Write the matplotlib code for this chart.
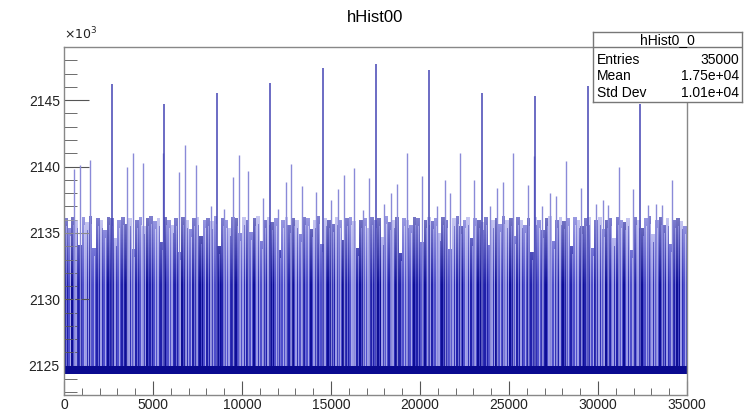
import numpy as np
import matplotlib
matplotlib.use("Agg")
import matplotlib.pyplot as plt
from matplotlib.ticker import MultipleLocator

plt.rcParams['font.family'] = ['Liberation Sans', 'DejaVu Sans']

# histogram (y in units of 10^3)
n_bins = 35000
stripe_width = 200
baseline = 2124.4
base_top = 2125.0

# tall spikes (bin, height)
tall_x = [2680, 5635, 8614, 11573, 14533, 17528, 20524, 23465, 26462, 29420, 32360]
tall_y = [2146.2, 2144.7, 2145.5, 2146.3, 2147.4, 2147.7, 2147.3, 2145.5, 2145.3, 2146.1, 2144.7]

# medium spikes (bin, height)
mid_x = [561, 899, 1461, 3522, 3858, 4420, 5580, 6478, 6798, 7416, 8240, 8989, 9477, 9813,
         10356, 11200, 12006, 12472, 12753, 13353, 14157, 15000, 15412, 15750, 16310, 16782,
         17153, 17978, 18371, 18690, 19287, 20096, 20937, 21404, 21685, 22247, 23050, 23933,
         24308, 24645, 25241, 26084, 26405, 26871, 27303, 27622, 28203, 29029, 29888, 30264,
         30579, 31180, 31985, 32826, 33258, 33578, 34140]
mid_y = [2139.8, 2140.1, 2140.5, 2140.0, 2141.0, 2140.3, 2141.0, 2139.6, 2141.6, 2140.1, 2137.0,
         2136.8, 2139.2, 2140.9, 2139.7, 2137.6, 2136.8, 2138.8, 2140.2, 2138.5, 2138.1, 2137.5,
         2138.3, 2139.4, 2139.9, 2136.7, 2139.1, 2137.2, 2138.0, 2138.7, 2141.0, 2139.3, 2137.0,
         2139.0, 2138.0, 2141.0, 2139.0, 2137.0, 2138.4, 2138.8, 2141.0, 2138.6, 2140.8, 2137.0,
         2138.0, 2137.8, 2140.4, 2138.4, 2137.2, 2137.5, 2137.1, 2140.0, 2138.3, 2137.1, 2137.2,
         2137.1, 2139.0]

# top of the dense band, one value per 200-bin stripe
band_top = [
    2136.1, 2135.4, 2136.2, 2136.0, 2134.1, 2136.2, 2135.8, 2136.3, 2133.9, 2136.1, 2136.0, 2135.2, 2136.2,
    2136.1, 2134.6, 2136.0, 2136.2, 2135.7, 2136.1, 2133.8, 2136.0, 2136.2, 2135.5, 2136.1, 2136.3,
    2135.9, 2136.1, 2134.3, 2136.2, 2136.0, 2135.6, 2136.1, 2133.6, 2136.2, 2136.0, 2135.3, 2136.1, 2136.2,
    2134.8, 2136.0, 2136.1, 2135.9, 2136.3, 2134.0, 2136.1, 2136.0, 2135.4, 2136.2, 2136.1, 2135.0,
    2136.2, 2136.0, 2135.1, 2136.1, 2136.3, 2134.4, 2136.0, 2136.2, 2135.8, 2136.1, 2133.7, 2136.0, 2136.2,
    2135.6, 2136.1, 2136.0, 2134.9, 2136.2, 2136.1, 2135.3, 2136.0, 2136.3, 2134.2, 2136.1, 2136.0,
    2135.7, 2136.2, 2136.0, 2134.5, 2136.1, 2136.2, 2135.9, 2133.9, 2136.0, 2136.1, 2135.4, 2136.2, 2136.0,
    2136.1, 2134.7, 2136.3, 2135.8, 2136.0, 2136.2, 2133.5, 2136.1, 2136.0, 2135.6, 2136.2, 2136.1,
    2134.3, 2136.0, 2136.2, 2135.9, 2136.1, 2135.0, 2136.2, 2136.0, 2133.8, 2136.1, 2136.3, 2135.5, 2136.0,
    2136.2, 2134.6, 2136.1, 2136.0, 2135.8, 2136.2, 2134.1, 2136.0, 2136.1, 2135.7, 2136.3, 2136.0,
    2136.1, 2134.8, 2136.2, 2136.0, 2135.6, 2136.1, 2133.6, 2136.2, 2136.0, 2135.2, 2136.1, 2136.3, 2134.4,
    2136.0, 2136.2, 2135.9, 2136.1, 2134.0, 2136.2, 2136.0, 2135.5, 2136.1, 2136.2, 2133.9, 2136.0,
    2136.2, 2135.3, 2136.0, 2136.1, 2134.6, 2136.2, 2136.0, 2135.8, 2136.1, 2133.7, 2136.2, 2136.0, 2135.4,
    2136.1, 2136.3, 2134.9, 2136.0, 2136.2, 2135.6, 2136.1, 2134.2, 2136.0, 2136.1, 2135.9, 2135.5,
]

# shade of each stripe: 0 light, 1 medium, 2 dark, 3 navy
band_shade = [
    2, 1, 3, 0, 2, 1, 0, 3, 1, 2, 0, 1, 3, 2, 0, 1, 2, 3, 0, 1, 2, 1, 0, 3, 2,
    1, 0, 2, 3, 1, 0, 2, 1, 3, 0, 1, 2, 0, 3, 1, 2, 0, 1, 3, 2, 1, 0, 2, 3, 1,
    0, 2, 1, 3, 0, 1, 2, 0, 3, 1, 2, 1, 0, 2, 3, 0, 1, 2, 1, 3, 0, 2, 1, 0, 3,
    2, 0, 1, 3, 2, 1, 0, 2, 3, 1, 0, 2, 1, 3, 0, 1, 2, 0, 3, 2, 1, 0, 1, 3, 2,
    1, 3, 0, 2, 1, 0, 3, 2, 1, 0, 2, 3, 1, 0, 2, 1, 3, 0, 2, 1, 0, 3, 1, 2, 0,
    3, 1, 2, 0, 1, 3, 2, 0, 1, 2, 3, 0, 1, 2, 0, 3, 1, 2, 1, 0, 3, 2, 0, 1, 2,
    0, 1, 3, 2, 0, 2, 1, 3, 0, 1, 2, 0, 3, 1, 2, 0, 1, 3, 2, 0, 1, 2, 3, 0, 1,
]

shade_colors = ['#9c9ce6', '#4e4ecb', '#2020aa', '#0e0e96']
inner_colors = ['#2e2eb4', '#a8a8ea', '#7070d6', '#4848c8']

fig = plt.figure(figsize=(7.49, 4.11), dpi=100)
ax = fig.add_axes([64 / 749, 1 - 395 / 411, (687 - 64) / 749, (395 - 47) / 411])

centers = np.arange(len(band_top)) * stripe_width + stripe_width / 2
heights = np.array(band_top) - baseline
ax.bar(centers, heights, bottom=baseline, width=stripe_width,
       color=[shade_colors[s] for s in band_shade], linewidth=0)
# thin contrasting line inside every stripe for the fine texture
ax.bar(centers + 40, heights - 0.6, bottom=baseline, width=55,
       color=[inner_colors[s] for s in band_shade], linewidth=0)

# top of the band looks washed out: fade to white towards its top edge
fade = np.linspace(0, 1, 64).reshape(-1, 1)
ax.imshow(np.dstack([np.ones((64, 1, 3)), fade * 0.45]), extent=[0, n_bins, 2131.0, 2136.4],
          origin='lower', aspect='auto', interpolation='bilinear', zorder=2)

ax.vlines(mid_x, base_top, mid_y, color='#8a8ad8', linewidth=1.0, zorder=3)
ax.vlines(tall_x, base_top, tall_y, color='#4444b4', linewidth=1.1, zorder=3)
ax.fill_between([0, n_bins], baseline, base_top, color='#0a0a90', linewidth=0, zorder=3)

ax.set_xlim(0, n_bins)
ax.set_ylim(2122.8, 2149.0)

ax.xaxis.set_major_locator(MultipleLocator(5000))
ax.xaxis.set_minor_locator(MultipleLocator(1000))
ax.yaxis.set_major_locator(MultipleLocator(5))
ax.yaxis.set_minor_locator(MultipleLocator(1))
ax.tick_params(axis='both', which='both', direction='in', labelsize=10, color='#555555',
               labelcolor='#222222')
ax.tick_params(axis='y', which='major', length=18, left=True, right=False, pad=3)
ax.tick_params(axis='y', which='minor', length=9, left=True, right=False)
ax.tick_params(axis='x', which='major', length=10, bottom=True, top=False, pad=2)
ax.tick_params(axis='x', which='minor', length=5, bottom=True, top=False)
for sp in ax.spines.values():
    sp.set_color('#888888')
    sp.set_linewidth(1.0)
    sp.set_zorder(4)

fig.text(64 / 749, 1 - 42 / 411, r'$\times10^{3}$', fontsize=9, ha='left', va='bottom', color='#222222')
fig.text(375 / 749, 1 - 18 / 411, 'hHist00', fontsize=12, ha='center', va='center')

# stats box
sx0, sx1, sy0, sy1 = 593, 742, 32, 102
box = fig.add_axes([sx0 / 749, 1 - sy1 / 411, (sx1 - sx0) / 749, (sy1 - sy0) / 411])
box.set_xticks([])
box.set_yticks([])
box.set_xlim(0, sx1 - sx0)
box.set_ylim(sy1 - sy0, 0)
for sp in box.spines.values():
    sp.set_color('#777777')
    sp.set_linewidth(1.0)
box.axhline(15, color='#777777', linewidth=1.0)
box.text((sx1 - sx0) / 2, 8, 'hHist0_0', ha='center', va='center', fontsize=10)
stat_names = ['Entries', 'Mean', 'Std Dev']
stat_values = ['35000', '1.75e+04', '1.01e+04']
for i, (nm, val) in enumerate(zip(stat_names, stat_values)):
    yy = 28 + i * 16.5
    box.text(4, yy, nm, ha='left', va='center', fontsize=10)
    box.text(sx1 - sx0 - 3, yy, val, ha='right', va='center', fontsize=10)

fig.savefig('out.png', dpi=100)
